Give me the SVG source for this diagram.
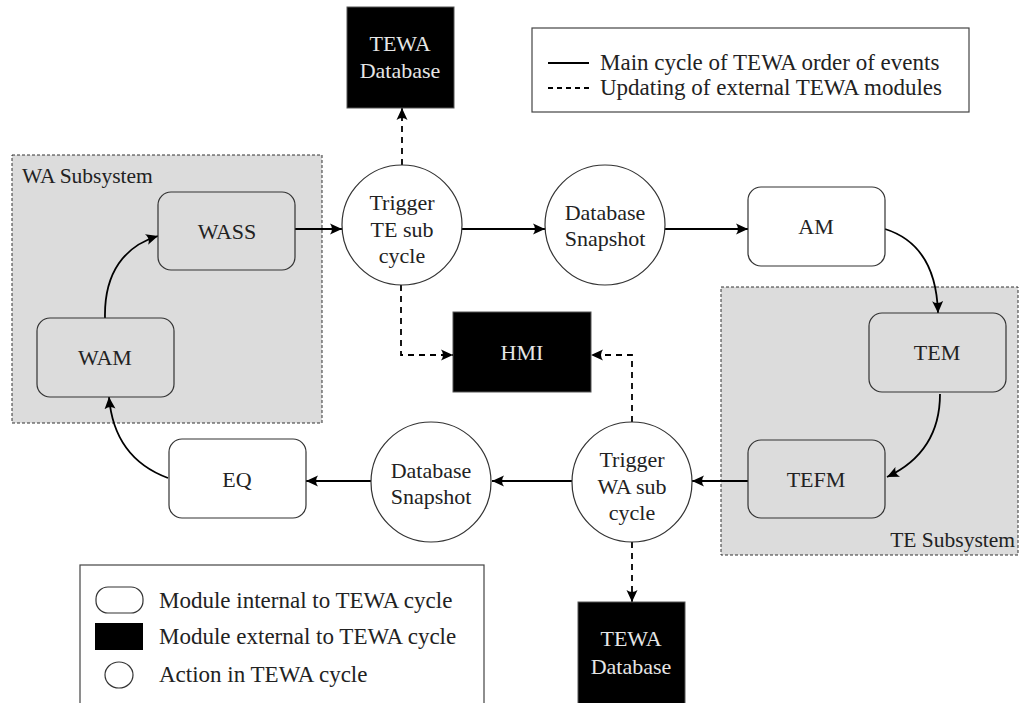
<svg xmlns="http://www.w3.org/2000/svg" width="1021" height="703" viewBox="0 0 1021 703">
<style>
text{font-family:"Liberation Serif","DejaVu Serif",serif;font-size:22px;fill:#222;text-anchor:middle}
.lt{text-anchor:start;font-size:23px}
.sl{text-anchor:start;font-size:21.5px}
.wt{fill:#e6e6e6}
.sub{fill:#dcdcdc;stroke:#333;stroke-width:1;stroke-dasharray:3,2}
.mod{stroke:#333;stroke-width:1.2}
.ext{fill:#000;stroke:#555;stroke-width:1}
.act{fill:#fff;stroke:#333;stroke-width:1.2}
.c{fill:none;stroke:#000;stroke-width:1.8}
.d{fill:none;stroke:#000;stroke-width:1.8;stroke-dasharray:6,5}
</style>
<defs>
<marker id="ah" markerUnits="userSpaceOnUse" markerWidth="14" markerHeight="12" refX="12" refY="6" orient="auto">
<path d="M0,0.5 Q4,6 0,11.5 L12,6 Z" fill="#000"/>
</marker>
</defs>
<rect width="1021" height="703" fill="#fff"/>
<g id="wa-subsystem">
<rect class="sub" x="12" y="155" width="310" height="268"/>
<text class="sl" x="22" y="183">WA Subsystem</text>
</g>
<g id="te-subsystem">
<rect class="sub" x="721" y="287" width="297" height="268"/>
<text class="sl" x="1015" y="547" style="text-anchor:end">TE Subsystem</text>
</g>
<g id="connectors">
<path class="c" d="M295,229 L342,229" marker-end="url(#ah)"/>
<path class="c" d="M462,229 L545,229" marker-end="url(#ah)"/>
<path class="c" d="M665,229 L748,229" marker-end="url(#ah)"/>
<path class="c" d="M885,229 Q936,245 938,313" marker-end="url(#ah)"/>
<path class="c" d="M940,394 Q940,452 887,477" marker-end="url(#ah)"/>
<path class="c" d="M748,481 L692,481" marker-end="url(#ah)"/>
<path class="c" d="M572,481 L492,481" marker-end="url(#ah)"/>
<path class="c" d="M371,481 L306,481" marker-end="url(#ah)"/>
<path class="c" d="M168,478 Q114,458 109,397" marker-end="url(#ah)"/>
<path class="c" d="M105,318 C104,272 125,246 158,236" marker-end="url(#ah)"/>
<path class="d" d="M402,165 L402,108" marker-end="url(#ah)"/>
<path class="d" d="M401,285 L401,355 L453,355" marker-end="url(#ah)"/>
<path class="d" d="M632,422 L632,355 L591,355" marker-end="url(#ah)"/>
<path class="d" d="M632,542 L632,602" marker-end="url(#ah)"/>
</g>
<g id="tewa-db-top">
<rect class="ext" x="347" y="7" width="107" height="101"/>
<text class="wt" x="400" y="51">TEWA</text>
<text class="wt" x="400" y="78">Database</text>
</g>
<g id="legend-top">
<rect x="532" y="28" width="437" height="84" fill="#fff" stroke="#444" stroke-width="1.2"/>
<line x1="548" y1="63" x2="589" y2="63" stroke="#000" stroke-width="1.8"/>
<line x1="548" y1="88" x2="589" y2="88" stroke="#000" stroke-width="1.8" stroke-dasharray="5,4"/>
<text class="lt" x="600" y="70">Main cycle of TEWA order of events</text>
<text class="lt" x="600" y="95">Updating of external TEWA modules</text>
</g>
<g id="wass">
<rect class="mod" x="158" y="192" width="137" height="78" rx="13" fill="#dcdcdc"/>
<text x="227" y="239">WASS</text>
</g>
<g id="wam">
<rect class="mod" x="37" y="318" width="137" height="79" rx="13" fill="#dcdcdc"/>
<text x="105" y="365">WAM</text>
</g>
<g id="trigger-te">
<circle class="act" cx="402" cy="225" r="60"/>
<text x="402" y="210">Trigger</text>
<text x="402" y="237">TE sub</text>
<text x="402" y="263">cycle</text>
</g>
<g id="db-snapshot-top">
<circle class="act" cx="605" cy="225" r="60"/>
<text x="605" y="220">Database</text>
<text x="605" y="246">Snapshot</text>
</g>
<g id="am">
<rect class="mod" x="748" y="187" width="137" height="79" rx="13" fill="#fff"/>
<text x="816" y="234">AM</text>
</g>
<g id="tem">
<rect class="mod" x="869" y="313" width="137" height="79" rx="13" fill="#dcdcdc"/>
<text x="937" y="360">TEM</text>
</g>
<g id="tefm">
<rect class="mod" x="748" y="440" width="137" height="78" rx="13" fill="#dcdcdc"/>
<text x="816" y="487">TEFM</text>
</g>
<g id="hmi">
<rect class="ext" x="453" y="312" width="138" height="80"/>
<text class="wt" x="522" y="360">HMI</text>
</g>
<g id="trigger-wa">
<circle class="act" cx="632" cy="482" r="60"/>
<text x="632" y="467">Trigger</text>
<text x="632" y="494">WA sub</text>
<text x="632" y="520">cycle</text>
</g>
<g id="db-snapshot-bottom">
<circle class="act" cx="431" cy="482" r="60"/>
<text x="431" y="478">Database</text>
<text x="431" y="504">Snapshot</text>
</g>
<g id="eq">
<rect class="mod" x="169" y="439" width="137" height="79" rx="13" fill="#fff"/>
<text x="237" y="487">EQ</text>
</g>
<g id="tewa-db-bottom">
<rect class="ext" x="578" y="602" width="107" height="104"/>
<text class="wt" x="631" y="646">TEWA</text>
<text class="wt" x="631" y="674">Database</text>
</g>
<g id="legend-bottom">
<rect x="80" y="565" width="404" height="145" fill="#fff" stroke="#444" stroke-width="1.2"/>
<rect x="96" y="587" width="47" height="26" rx="12" fill="#fff" stroke="#333" stroke-width="1.2"/>
<rect x="95" y="623" width="48" height="27" fill="#000"/>
<ellipse cx="119" cy="675" rx="14" ry="13" fill="#fff" stroke="#333" stroke-width="1.2"/>
<text class="lt" x="159" y="608">Module internal to TEWA cycle</text>
<text class="lt" x="159" y="644">Module external to TEWA cycle</text>
<text class="lt" x="159" y="682">Action in TEWA cycle</text>
</g>
</svg>
